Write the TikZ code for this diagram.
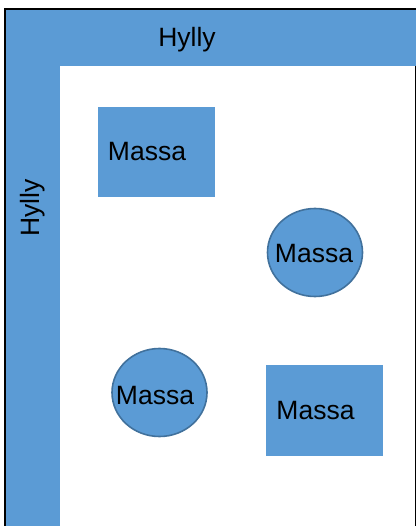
\documentclass[tikz,border=0pt]{standalone}
\usepackage{fontspec}
\setmainfont{Liberation Sans}
\usetikzlibrary{shapes.geometric}
\definecolor{shelf}{HTML}{5B9BD5}
\definecolor{edgeblue}{HTML}{41719C}
\tikzset{
  sq/.style={fill=shelf, draw=none, inner sep=0pt},
  ell/.style={ellipse, fill=shelf, draw=edgeblue, line width=1.6pt, inner sep=0pt},
  lbl/.style={font=\fontsize{26.5}{31}\selectfont, inner sep=0pt},
}
\begin{document}
\begin{tikzpicture}[x=1pt,y=-1pt]
\useasboundingbox (0,0) rectangle (416,526);
% shelves
\fill[shelf] (6,10) rectangle (416,66);
\fill[shelf] (6,10) rectangle (60,526);
\draw[line width=1.6pt] (5,526) -- (5,9) -- (416,9);
\draw[line width=1.2pt] (415.4,66) -- (415.4,526);
\node[lbl] (hyllytop) at (187,40) {Hylly};
\node[lbl, rotate=90] (hyllyleft) at (33,208) {Hylly};
% masses
\node[sq, minimum width=117pt, minimum height=90pt] (m1) at (156.5,152) {};
\node[lbl] (m1t) at (147,152) {Massa};
\node[sq, minimum width=117pt, minimum height=91pt] (m4) at (324.5,410.5) {};
\node[lbl] (m4t) at (315.5,410.5) {Massa};
\node[ell, minimum width=95pt, minimum height=88pt] (m2) at (315,252.5) {};
\node[lbl] (m2t) at (314,254) {Massa};
\node[ell, minimum width=95pt, minimum height=88pt] (m3) at (159.5,392.5) {};
\node[lbl] (m3t) at (155,396) {Massa};
\end{tikzpicture}
\end{document}
